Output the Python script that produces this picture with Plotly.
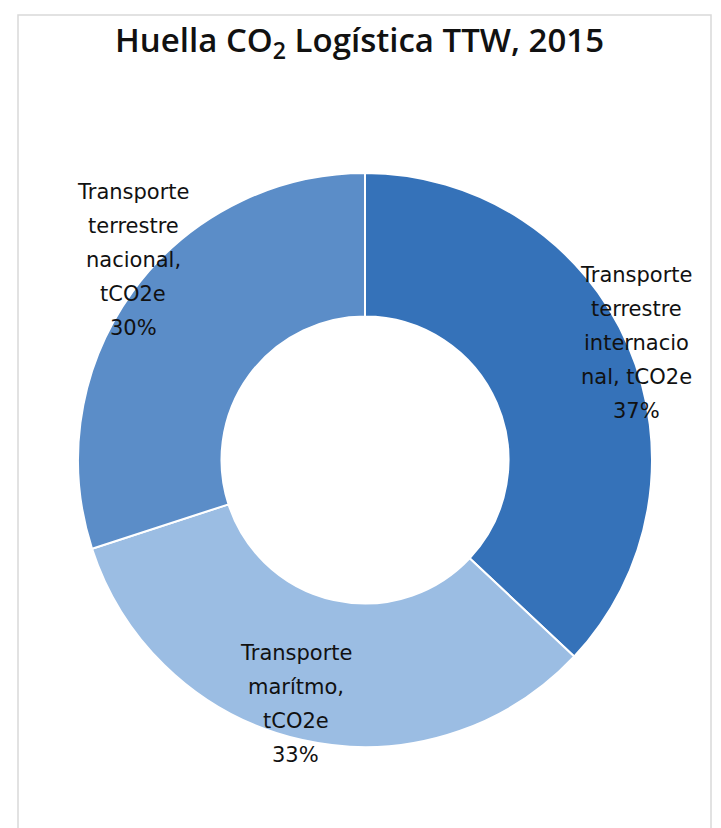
import math
import plotly.graph_objects as go

# ---- data ----
categories = [
    "Transporte terrestre internacional, tCO2e",
    "Transporte marítmo, tCO2e",
    "Transporte terrestre nacional, tCO2e",
]
values = [37, 33, 30]
label_lines = [
    ["Transporte", "terrestre", "internacio", "nal, tCO2e"],
    ["Transporte", "marítmo,", "tCO2e"],
    ["Transporte", "terrestre", "nacional,", "tCO2e"],
]
title_text = "Huella CO<sub>2</sub> Logística TTW, 2015"

# ---- style ----
W, H = 721, 828
OFF = 8                              # page body margin compensation
colors = ["#3572B9", "#9BBDE3", "#5B8DC8"]
cx, cy, R = 365 - OFF, 460 - OFF, 287
label_radius = [1.03, 0.87, 1.05]
label_xshift = [0, -15, 12]
label_yshift = [0, 0, 23]
line_gap = 34
label_font = dict(family="DejaVu Sans", size=21, color="#111111")

fig = go.Figure()
fig.add_trace(go.Pie(
    labels=categories,
    values=values,
    hole=0.5,
    sort=False,
    direction="clockwise",
    rotation=0,
    marker=dict(colors=colors, line=dict(color="white", width=2)),
    textinfo="none",
    hoverinfo="label+percent",
    showlegend=False,
    domain=dict(x=[(cx - R) / W, (cx + R) / W],
                y=[(H - cy - R) / H, (H - cy + R) / H]),
))

total = sum(values)
cum = 0
annotations = []
for i, v in enumerate(values):
    mid = (cum + v / 2) / total * 2 * math.pi
    cum += v
    d = R * label_radius[i]
    px = cx + d * math.sin(mid)
    py = cy - d * math.cos(mid)
    pct = round(v / total * 100)
    lines = label_lines[i] + [f"{pct}%"]
    n = len(lines)
    for j, ln in enumerate(lines):
        annotations.append(dict(
            x=px / W, y=1 - py / H, xref="paper", yref="paper",
            text=ln, showarrow=False, font=label_font,
            xanchor="center", yanchor="middle",
            xshift=label_xshift[i],
            yshift=label_yshift[i] - (j - (n - 1) / 2) * line_gap,
        ))

annotations.append(dict(
    x=(359 - OFF) / W, y=1 - (42 - OFF) / H, xref="paper", yref="paper",
    text=title_text, showarrow=False,
    font=dict(family="Open Sans", size=33, color="#111111", weight=600),
    xanchor="center", yanchor="middle",
))

fig.update_layout(
    width=W, height=H,
    margin=dict(l=0, r=0, t=0, b=0),
    paper_bgcolor="white",
    annotations=annotations,
    shapes=[dict(type="rect", xref="paper", yref="paper",
                 x0=(18 - OFF) / W, x1=(711 - OFF) / W, y0=-0.05,
                 y1=1 - (7 - OFF + 8) / H,
                 line=dict(color="#D9D9D9", width=1.5))],
)

fig.write_html("out.html")
